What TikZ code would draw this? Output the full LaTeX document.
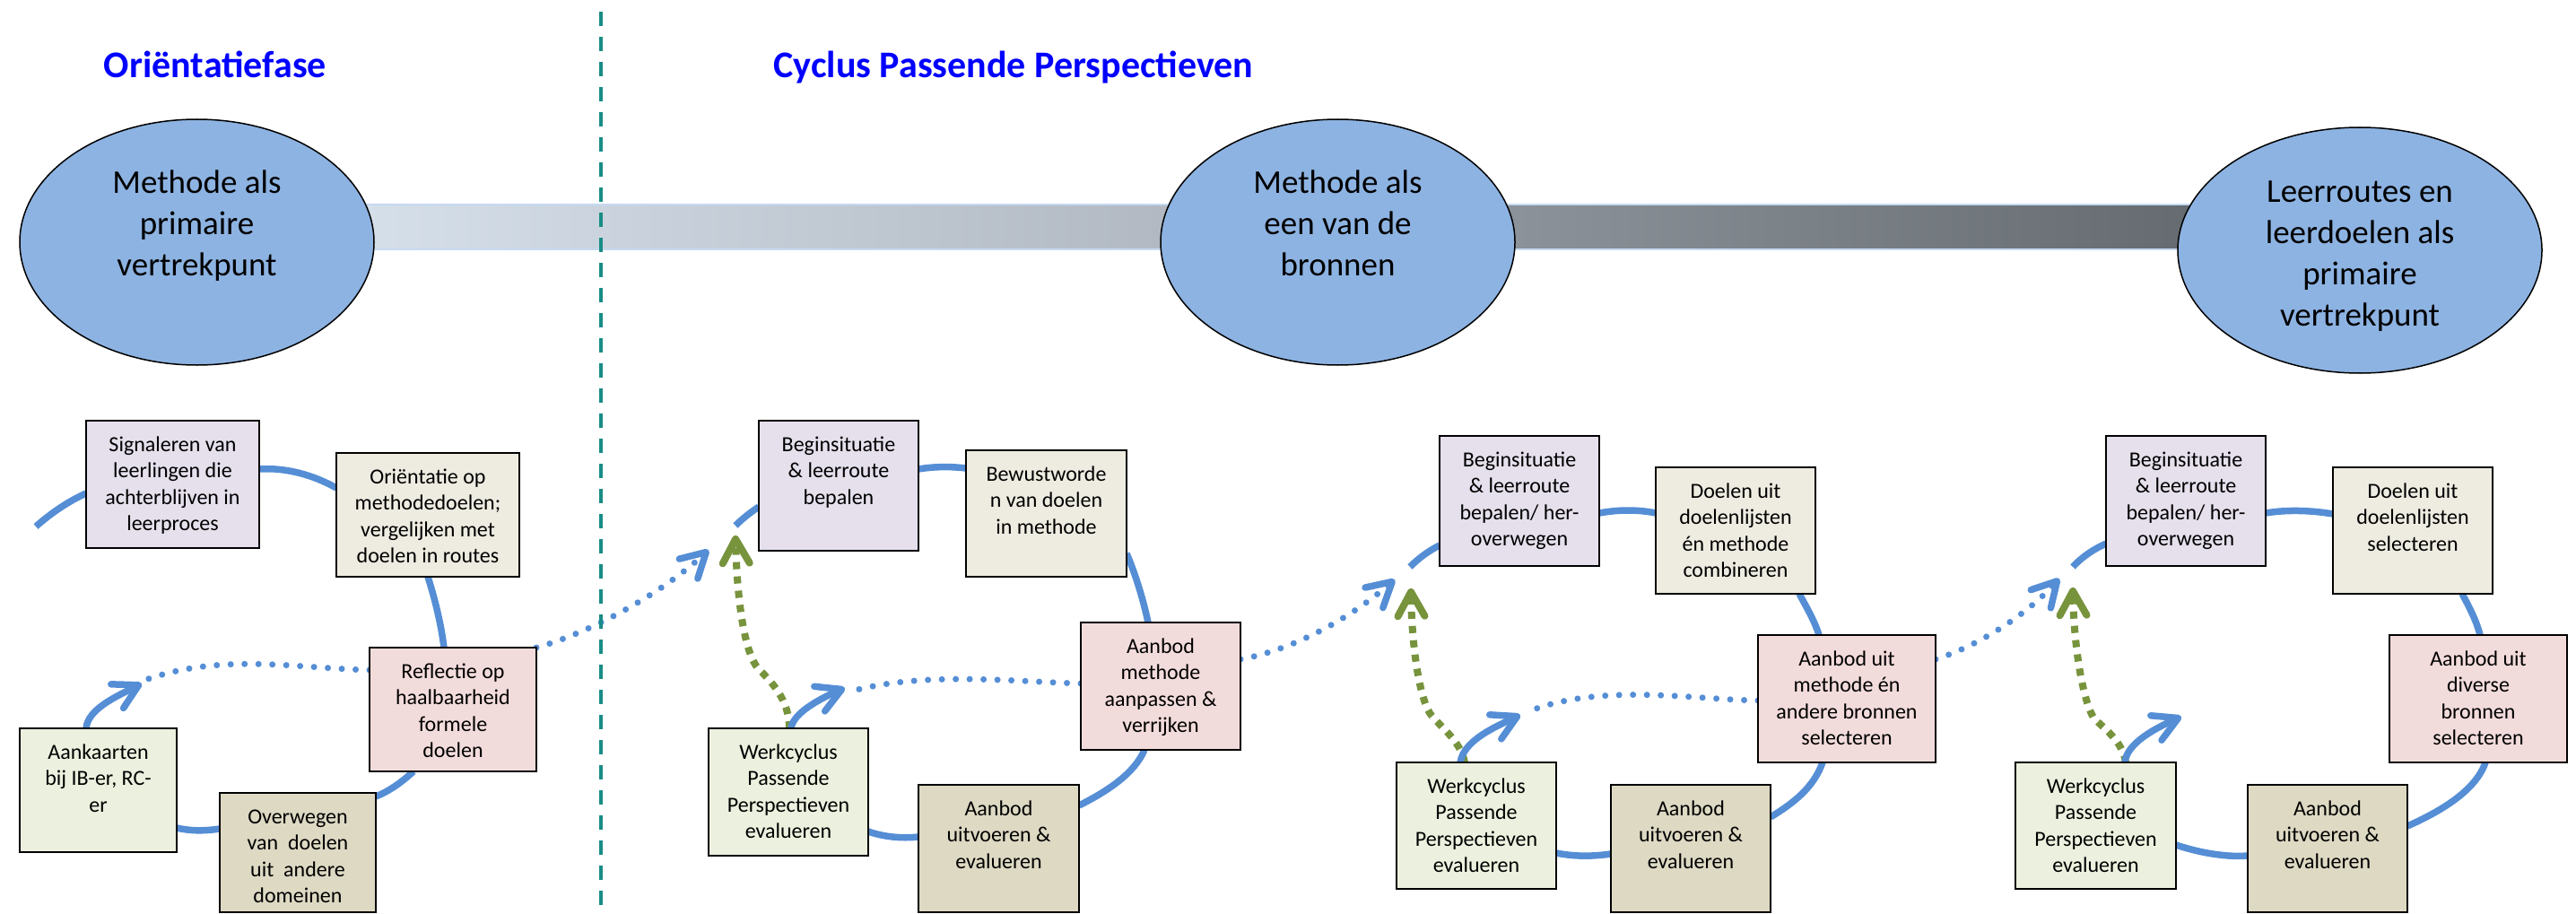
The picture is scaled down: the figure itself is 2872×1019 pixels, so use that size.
\documentclass[tikz,border=0pt]{standalone}
\usepackage{fontspec}
\setmainfont{Carlito}
\usetikzlibrary{arrows.meta,shapes.geometric,calc}
\definecolor{arcblue}{RGB}{85,142,213}
\definecolor{ellblue}{RGB}{141,179,226}
\definecolor{septeal}{RGB}{25,140,135}
\definecolor{grn}{RGB}{119,147,60}
\definecolor{pur}{RGB}{229,224,236}
\definecolor{bei}{RGB}{238,236,225}
\definecolor{pnk}{RGB}{242,220,219}
\definecolor{lgr}{RGB}{235,241,222}
\definecolor{boxtan}{RGB}{221,217,195}
\definecolor{barA}{RGB}{214,224,235}
\definecolor{barB}{RGB}{178,185,194}
\definecolor{barC}{RGB}{139,146,153}
\definecolor{barD}{RGB}{100,106,111}
\definecolor{baredge}{RGB}{198,217,241}
\pgfdeclarelayer{bg}
\pgfsetlayers{bg,main}
\newcommand{\bxt}[3]{\parbox[c][#2][t]{#1}{\centering\rule{0pt}{34pt}#3}}
\newcommand{\elt}[2]{\parbox[c][190pt][t]{260pt}{\centering\rule{0pt}{#1}#2}}
\tikzset{
  cbox/.style={rectangle, draw=black, line width=1.4pt, inner sep=0pt, outer sep=0pt, font=\fontsize{24}{29.5}\selectfont},
  ellnode/.style={ellipse, draw=black, line width=1.5pt, fill=ellblue, inner sep=0pt, outer sep=0pt, minimum width=395pt, minimum height=274pt, font=\fontsize{37}{46}\selectfont},
  ttl/.style={font=\fontsize{42}{50}\selectfont\bfseries, text=blue, anchor=base, inner sep=0pt},
  bluearc/.style={draw=arcblue, line width=7.5pt},
  arcarrow/.style={bluearc, -{Straight Barb[length=27pt,width=30pt,round]}},
  bluedots/.style={draw=arcblue, line width=7pt, line cap=round, dash pattern=on 0pt off 15.5pt},
  dotarrow/.style={bluedots, -{Straight Barb[length=27pt,width=30pt,round,line width=7.5pt]}},
  grnarrow/.style={draw=grn, line width=8pt, dash pattern=on 8pt off 8pt, -{Straight Barb[length=27pt,width=30pt,round]}},
  sepline/.style={draw=septeal, line width=4pt, dash pattern=on 16pt off 12pt}
}
\begin{document}
\begin{tikzpicture}[x=1pt,y=-1pt]
\useasboundingbox (0,0) rectangle (2872,1019);
% titles
\node[ttl] (T1) at (240,87) {Oriëntatiefase};
\node[ttl] (T2) at (1130,87) {Cyclus Passende Perspectieven};
% separator
\coordinate (s1) at (670,13);
\coordinate (s2) at (670,1015);
\draw[sepline] (s1) -- (s2);
% ellipses
\node[ellnode] (E1) at (219.5,270) {\elt{40pt}{Methode als\\primaire\\vertrekpunt}};
\node[ellnode] (E2) at (1491.5,270) {\elt{40pt}{Methode als\\een van de\\bronnen}};
\node[ellnode, minimum width=406pt] (E3) at (2631,279) {\elt{41pt}{Leerroutes en\\leerdoelen als\\primaire\\vertrekpunt}};
% left cycle boxes
\node[cbox, fill=pur] (S0) at (192.5,540) {\bxt{193pt}{142pt}{Signaleren van\\leerlingen die\\achterblijven in\\leerproces}};
\node[cbox, fill=bei] (O0) at (477,574) {\bxt{204pt}{138pt}{Oriëntatie op\\methodedoelen;\\vergelijken met\\doelen in routes}};
\node[cbox, fill=pnk] (R0) at (505,791) {\bxt{186pt}{138pt}{Reflectie op\\haalbaarheid\\formele\\doelen}};
\node[cbox, fill=lgr] (A0) at (109.5,881) {\bxt{175pt}{138pt}{Aankaarten\\bij IB-er, RC-\\er}};
\node[cbox, fill=boxtan] (V0) at (332,950.5) {\bxt{174pt}{133pt}{Overwegen\\van\ \ doelen\\uit\ \ andere\\domeinen}};
% cycle 1
\node[cbox, fill=pur] (B1) at (935,541.5) {\bxt{178pt}{145pt}{Beginsituatie\\\& leerroute\\bepalen}};
\node[cbox, fill=bei] (W1) at (1166.5,572.5) {\bxt{179pt}{141pt}{Bewustworde\\n van doelen\\in methode}};
\node[cbox, fill=pnk] (M1) at (1294,765) {\bxt{178pt}{142pt}{Aanbod\\methode\\aanpassen \&\\verrijken}};
\node[cbox, fill=lgr] (P1) at (879,883) {\bxt{178pt}{142pt}{Werkcyclus\\Passende\\Perspectieven\\evalueren}};
\node[cbox, fill=boxtan] (U1) at (1113.5,946) {\bxt{179pt}{142pt}{Aanbod\\uitvoeren \&\\evalueren}};
% cycle 2
\node[cbox, fill=pur] (B2) at (1694,558.5) {\bxt{178pt}{145pt}{Beginsituatie\\\& leerroute\\bepalen/ her-\\overwegen}};
\node[cbox, fill=bei] (D2) at (1935,591.5) {\bxt{178pt}{141pt}{Doelen uit\\doelenlijsten\\én methode\\combineren}};
\node[cbox, fill=pnk] (M2) at (2059,779) {\bxt{198pt}{142pt}{Aanbod uit\\methode én\\andere bronnen\\selecteren}};
\node[cbox, fill=lgr] (P2) at (1646,920.5) {\bxt{178pt}{141pt}{Werkcyclus\\Passende\\Perspectieven\\evalueren}};
\node[cbox, fill=boxtan] (U2) at (1885,946) {\bxt{178pt}{142pt}{Aanbod\\uitvoeren \&\\evalueren}};
% cycle 3
\node[cbox, fill=pur] (B3) at (2437,558.5) {\bxt{178pt}{145pt}{Beginsituatie\\\& leerroute\\bepalen/ her-\\overwegen}};
\node[cbox, fill=bei] (D3) at (2690,591.5) {\bxt{178pt}{141pt}{Doelen uit\\doelenlijsten\\selecteren}};
\node[cbox, fill=pnk] (M3) at (2763,779) {\bxt{198pt}{142pt}{Aanbod uit\\diverse\\bronnen\\selecteren}};
\node[cbox, fill=lgr] (P3) at (2336.5,920.5) {\bxt{179pt}{141pt}{Werkcyclus\\Passende\\Perspectieven\\evalueren}};
\node[cbox, fill=boxtan] (U3) at (2595,946) {\bxt{178pt}{142pt}{Aanbod\\uitvoeren \&\\evalueren}};
% free ends and arrow tips
\coordinate (f0) at (40,587);
\coordinate (t0) at (158,762);
\coordinate (e0) at (165,757);
\coordinate (t1) at (790,613);
\coordinate (f1) at (820,586);
\coordinate (g1) at (820,597);
\coordinate (t2) at (942,767);
\coordinate (e1) at (948,771);
\coordinate (t3) at (1555,646);
\coordinate (f2) at (1572,632);
\coordinate (g2) at (1573,656);
\coordinate (t4) at (1695,797);
\coordinate (e2) at (1710,791);
\coordinate (t5) at (2296,645);
\coordinate (f3) at (2311,632);
\coordinate (g3) at (2311,655);
\coordinate (t6) at (2432,799);
\begin{pgfonlayer}{bg}
% bar
\shade[left color=barA, right color=barB] (380,228) rectangle (1294,278);
\shade[left color=barB, right color=barC] (1294,228) rectangle (1689,278);
\shade[left color=barC, right color=barD] (1689,228) rectangle (2460,278);
\draw[draw=baredge, line width=2.5pt] (380,228) -- (2460,228) (380,278) -- (2460,278);
% left cycle
\draw[bluearc] (f0) .. controls (58,571) and (78,558) .. (S0.west |- 0,550);
\draw[bluearc] (S0.east |- 0,523) .. controls (320,521) and (350,530) .. (O0.west |- 0,544);
\draw[bluearc] (O0.south -| 477,0) .. controls (485,668) and (492,697) .. (R0.north -| 495,0);
\draw[bluearc] (R0.south -| 461,0) .. controls (448,872) and (434,882) .. (V0.east |- 0,888);
\draw[bluearc] (V0.west |- 0,924) .. controls (225,927) and (210,926) .. (A0.east |- 0,923);
\draw[arcarrow] (A0.north -| 96,0) .. controls (98,790) and (131,776) .. (t0);
\draw[bluedots] (R0.west |- 0,747) .. controls (330,745) and (250,728) .. (e0);
\draw[dotarrow] (R0.north east) .. controls (660,705) and (740,660) .. (t1);
% cycle 1
\draw[bluearc] (f1) .. controls (828,578) and (837,571) .. (B1.west |- 0,565);
\draw[bluearc] (B1.east |- 0,523) .. controls (1042,520) and (1060,520) .. (W1.west |- 0,522);
\draw[bluearc] (W1.east |- 0,617) .. controls (1266,640) and (1275,670) .. (M1.north -| 1280,0);
\draw[bluearc] (M1.south -| 1276,0) .. controls (1265,862) and (1235,882) .. (U1.east |- 0,898);
\draw[bluearc] (U1.west |- 0,933) .. controls (1005,935) and (985,933) .. (P1.east |- 0,927);
\draw[grnarrow] (P1.north -| 880,0) .. controls (880,780) and (860,760) .. (845,745) .. controls (832,730) and (822,680) .. (g1);
\draw[arcarrow] (P1.north -| 882,0) .. controls (884,795) and (914,779) .. (t2);
\draw[bluedots] (M1.west |- 0,762) .. controls (1130,760) and (1030,748) .. (e1);
\draw[dotarrow] (M1.east |- 0,735) .. controls (1440,725) and (1505,690) .. (t3);
% cycle 2
\draw[bluearc] (f2) .. controls (1582,622) and (1593,614) .. (B2.west |- 0,608);
\draw[bluearc] (B2.east |- 0,572) .. controls (1805,568) and (1826,568) .. (D2.west |- 0,572);
\draw[bluearc] (D2.south -| 2006,0) .. controls (2014,677) and (2023,692) .. (M2.north -| 2028,0);
\draw[bluearc] (M2.south -| 2032,0) .. controls (2022,878) and (2000,895) .. (U2.east |- 0,911);
\draw[bluearc] (U2.west |- 0,952) .. controls (1775,955) and (1755,955) .. (P2.east |- 0,951);
\draw[grnarrow] (P2.north -| 1633,0) .. controls (1628,825) and (1605,810) .. (1594,795) .. controls (1582,775) and (1574,720) .. (g2);
\draw[arcarrow] (P2.north -| 1628,0) .. controls (1632,825) and (1668,810) .. (t4);
\draw[bluedots] (M2.west |- 0,781) .. controls (1890,780) and (1790,762) .. (e2);
\draw[dotarrow] (M2.east |- 0,735) .. controls (2200,722) and (2255,690) .. (t5);
% cycle 3
\draw[bluearc] (f3) .. controls (2322,620) and (2335,612) .. (B3.west |- 0,606);
\draw[bluearc] (B3.east |- 0,572) .. controls (2550,568) and (2577,569) .. (D3.west |- 0,573);
\draw[bluearc] (D3.south -| 2745,0) .. controls (2753,677) and (2761,692) .. (M3.north -| 2765,0);
\draw[bluearc] (M3.south -| 2771,0) .. controls (2760,882) and (2720,905) .. (U3.east |- 0,921);
\draw[bluearc] (U3.west |- 0,954) .. controls (2480,956) and (2450,950) .. (P3.east |- 0,942);
\draw[grnarrow] (P3.north -| 2370,0) .. controls (2366,825) and (2345,812) .. (2334,800) .. controls (2322,780) and (2312,720) .. (g3);
\draw[arcarrow] (P3.north -| 2369,0) .. controls (2371,828) and (2405,811) .. (t6);
\end{pgfonlayer}
\end{tikzpicture}
\end{document}
